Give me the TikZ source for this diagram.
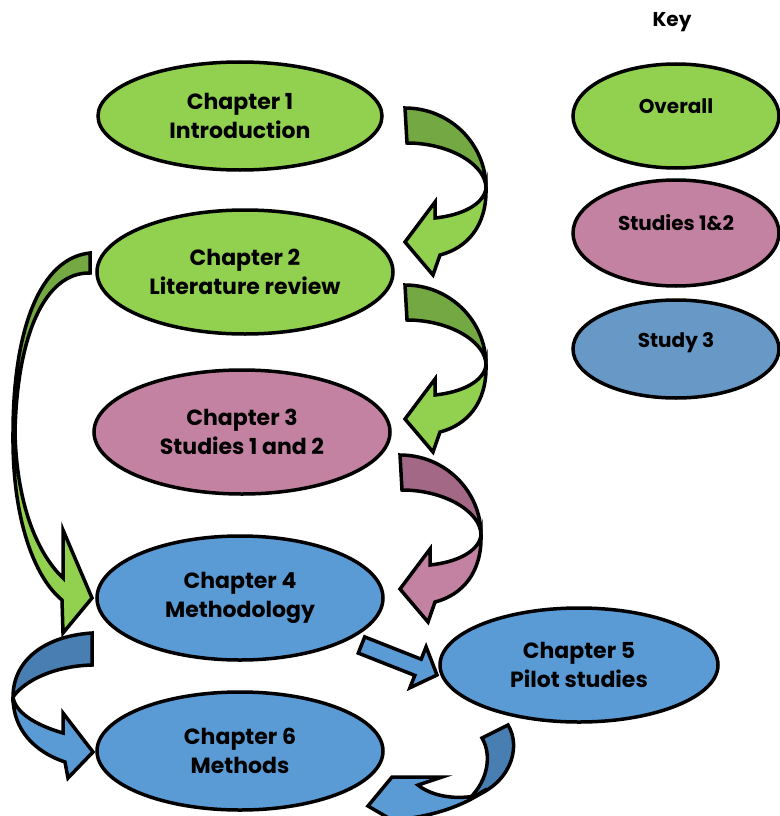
\documentclass[tikz,border=0pt]{standalone}
\usepackage{fontspec}
\setmainfont{Poppins}
\usetikzlibrary{shapes.geometric}
\definecolor{gL}{RGB}{146,208,80}
\definecolor{gD}{RGB}{116,168,66}
\definecolor{pL}{RGB}{196,130,162}
\definecolor{pD}{RGB}{163,104,134}
\definecolor{bL}{RGB}{91,155,213}
\definecolor{bD}{RGB}{72,126,178}
\definecolor{bK}{RGB}{104,152,198}
\newcommand{\rcurve}[3]{%
 \begin{scope}[shift={(#1)}]
 \draw[blk, fill=#2] (0,0) .. controls (45,0) and (81,36) .. (81,80) .. controls (81,57) and (45,35) .. (2,35) -- cycle;
 \draw[blk, fill=#3] (81,80) .. controls (79,96) and (58,107) .. (30,110) -- (30,94) -- (0,134) -- (28,167) -- (35,147) .. controls (62,140) and (82,118) .. (81,80) -- cycle;
 \end{scope}}
\begin{document}
\begin{tikzpicture}[x=1pt,y=-1pt,
  blk/.style={draw=black, line width=3.5pt, line join=miter},
  ell/.style={ellipse, draw=black, line width=3.5pt, inner sep=0pt, align=center,
     font=\fontsize{22}{29}\selectfont\bfseries},
  kell/.style={ellipse, draw=black, line width=3.5pt, inner sep=0pt,
     minimum width=206pt},
  klbl/.style={font=\fontsize{20}{22}\selectfont\bfseries}]
\useasboundingbox (0,0) rectangle (779,816);
\fill[white] (0,0) rectangle (779,816);
% curved arrows on the right
\rcurve{405,108}{gD}{gL}
\rcurve{405,285}{gD}{gL}
\rcurve{400,455}{pD}{pL}
% long arrow chapter 2 -> chapter 4
\draw[blk, fill=gD] (90,253) .. controls (40,258) and (13,330) .. (13,433)
   -- (15,433) .. controls (17,335) and (45,272) .. (90,273) -- cycle;
\draw[blk, fill=gL] (13,433) .. controls (12,520) and (35,578) .. (62,600)
   -- (63,633) -- (92,598) -- (63,530) -- (63,578)
   .. controls (40,556) and (17,510) .. (15,433) -- cycle;
% arrow chapter 4 -> chapter 6
\draw[blk, fill=bD] (92,633) .. controls (45,636) and (13,660) .. (13,697)
   .. controls (25,680) and (55,666) .. (92,665) -- cycle;
\draw[blk, fill=bL] (13,697) .. controls (13,730) and (35,752) .. (65,762)
   -- (68,778) -- (93,752) -- (63,713) -- (63,733)
   .. controls (35,725) and (15,712) .. (13,697) -- cycle;
% arrow chapter 4 -> chapter 5
\draw[blk, fill=bL] (364.7,636.9) -- (421.2,659.2) -- (426.1,646.8) -- (437,675)
   -- (409.9,687.8) -- (414.8,675.4) -- (358.3,653.1) -- cycle;
% arrow chapter 5 -> chapter 6
\draw[blk, fill=bD] (482,738) -- (508,725) .. controls (522,748) and (510,785) .. (470,798)
   .. controls (488,780) and (492,755) .. (482,738) -- cycle;
\draw[blk, fill=bL] (475,796) .. controls (452,800) and (430,795) .. (418,785)
   -- (442,777) -- (392,777) -- (368,806) -- (392,820)
   .. controls (425,818) and (462,808) .. (487,789) -- cycle;
% chapters
\node[ell, fill=gL, minimum width=284pt, minimum height=108pt] (c1) at (240,116) {Chapter 1\\Introduction};
\node[ell, fill=gL, minimum width=296pt, minimum height=124pt] (c2) at (245,272) {Chapter 2\\Literature review};
\node[ell, fill=pL, minimum width=296pt, minimum height=124pt] (c3) at (242,432) {Chapter 3\\Studies 1 and 2};
\node[ell, fill=bL, minimum width=286pt, minimum height=124pt] (c4) at (240,598) {Chapter 4\\Methodology};
\node[ell, fill=bL, minimum width=278pt, minimum height=114pt] (c5) at (579,665) {Chapter 5\\Pilot studies};
\node[ell, fill=bL, minimum width=286pt, minimum height=118pt] (c6) at (240,751) {Chapter 6\\Methods};
% key
\node[klbl] (key) at (672,22) {Key};
\node[kell, fill=gL, minimum height=104pt, label={[klbl, yshift=10pt]center:Overall}] (k1) at (676,116) {};
\node[kell, fill=pL, minimum height=106pt, label={[klbl, yshift=10pt]center:Studies 1\&2}] (k2) at (676,233) {};
\node[kell, fill=bK, minimum height=98pt, label={[klbl, yshift=6pt]center:Study 3}] (k3) at (676,349) {};
\end{tikzpicture}
\end{document}
